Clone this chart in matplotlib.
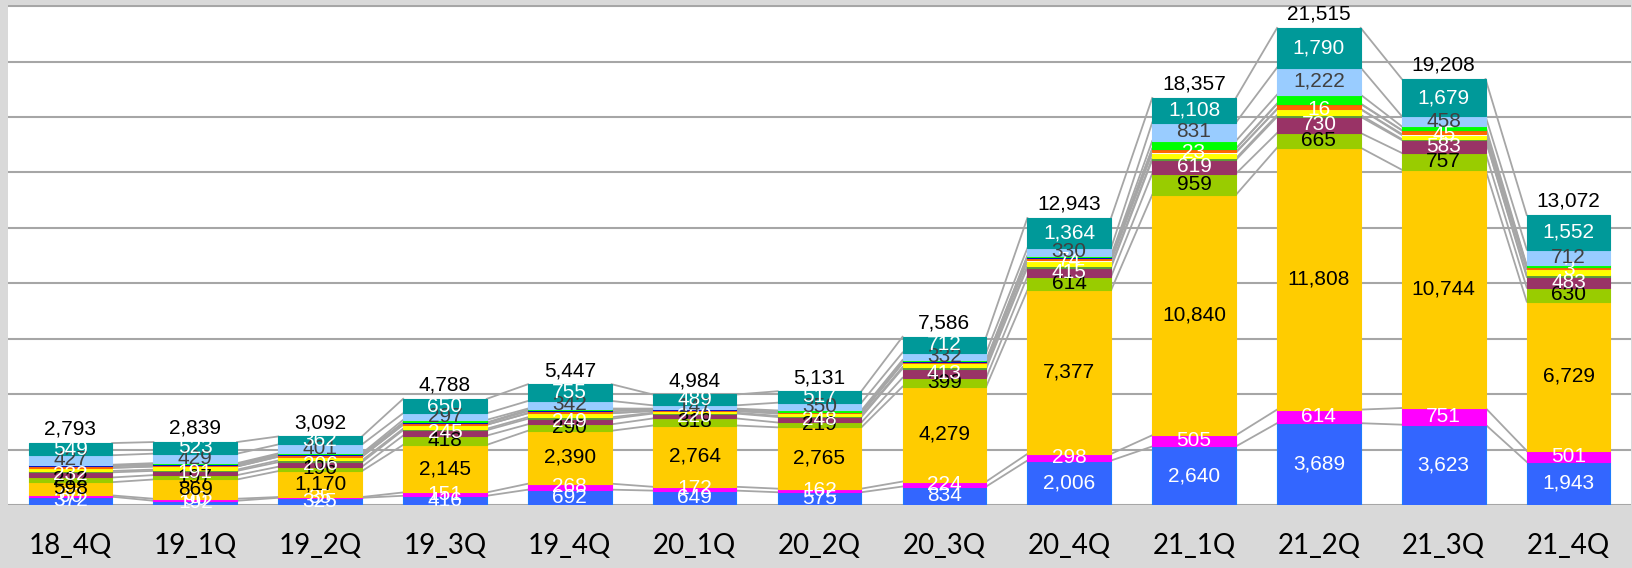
import numpy as np
import matplotlib
matplotlib.use("Agg")
import matplotlib.pyplot as plt

quarters = ['18_4Q', '19_1Q', '19_2Q', '19_3Q', '19_4Q', '20_1Q', '20_2Q',
            '20_3Q', '20_4Q', '21_1Q', '21_2Q', '21_3Q', '21_4Q']

# series, bottom to top
blue      = [372, 192, 325, 416, 692, 649, 575, 834, 2006, 2640, 3689, 3623, 1943]
magenta   = [60, 90, 35, 151, 268, 172, 162, 224, 298, 505, 614, 751, 501]
gold      = [598, 869, 1170, 2145, 2390, 2764, 2765, 4279, 7377, 10840, 11808, 10744, 6729]
ygreen    = [212, 197, 196, 418, 290, 318, 219, 399, 614, 959, 665, 757, 630]
maroon    = [232, 191, 206, 245, 249, 220, 248, 413, 415, 619, 730, 583, 483]
olive     = [63, 58, 77, 66, 71, 40, 50, 73, 90, 72, 80, 43, 74]
yellow    = [140, 140, 170, 180, 180, 80, 110, 170, 195, 250, 260, 185, 280]
tiny      = [0, 0, 0, 0, 0, 0, 0, 0, 74, 23, 16, 45, 3]
orange    = [70, 70, 70, 80, 90, 40, 55, 70, 60, 160, 220, 160, 100]
darkblue  = [40, 40, 30, 20, 70, 25, 20, 20, 75, 0, 21, 20, 0]
green     = [30, 40, 50, 120, 50, 40, 60, 60, 45, 350, 400, 160, 65]
lightblue = [427, 429, 401, 297, 342, 147, 350, 332, 330, 831, 1222, 458, 712]
teal      = [549, 523, 362, 650, 755, 489, 517, 712, 1364, 1108, 1790, 1679, 1552]

# (values, colour, label colour or None)
series = [
    (blue, '#3366FF', 'white'),
    (magenta, '#FF00FF', 'white'),
    (gold, '#FFCC00', 'black'),
    (ygreen, '#99CC00', 'black'),
    (maroon, '#993366', 'white'),
    (olive, '#5B9B3A', None),
    (yellow, '#FFFF00', None),
    (tiny, '#FFFFFF', 'white'),
    (orange, '#FF6600', None),
    (darkblue, '#0000CC', None),
    (green, '#00FF00', None),
    (lightblue, '#99CCFF', '#404040'),
    (teal, '#009999', 'white'),
]

fig = plt.figure(figsize=(16.33, 5.68), dpi=100, facecolor='#D9D9D9')
ax = fig.add_axes([8 / 1633, 63 / 568, 1623 / 1633, 500 / 568])
ax.set_facecolor('white')

x = np.arange(len(quarters))
w = 0.67
bottom = np.zeros(len(quarters))
tops = []
for vals, col, lcol in series:
    v = np.array(vals, dtype=float)
    ec = '#1F7BFF' if col == '#3366FF' else col
    ax.bar(x, v, w, bottom=bottom, color=col, edgecolor=ec, linewidth=0.8, zorder=3)
    if lcol is not None:
        for i in range(len(x)):
            if vals[i] == 0:
                continue
            ax.text(x[i], bottom[i] + v[i] / 2, format(vals[i], ','), ha='center', va='center',
                    color=lcol, fontsize=15, family='Liberation Sans', zorder=5)
    bottom = bottom + v
    tops.append(bottom.copy())

# series lines between bars
for t in tops:
    for i in range(len(x) - 1):
        ax.plot([x[i] + w / 2, x[i + 1] - w / 2], [t[i], t[i + 1]],
                color='#A6A6A6', lw=1.3, zorder=2)

for i in range(len(x)):
    ax.annotate(format(int(bottom[i]), ','), (x[i], bottom[i]), xytext=(0, 3),
                textcoords='offset points', ha='center', va='bottom',
                fontsize=15, family='Liberation Sans', color='black')

ax.set_xlim(-0.5, 12.5)
ax.set_ylim(0, 22550)
ax.set_yticks(np.arange(0, 22501, 2500))
ax.yaxis.grid(True, color='#A6A6A6', lw=1.5, zorder=0)
ax.set_axisbelow(True)
ax.tick_params(axis='y', length=0, labelleft=False)
ax.set_xticks(x)
ax.set_xticklabels(quarters, fontsize=20, family='Lato')
ax.tick_params(axis='x', length=0, pad=20)
for s in ax.spines.values():
    s.set_visible(False)

fig.savefig('out.png', dpi=100, facecolor=fig.get_facecolor())
